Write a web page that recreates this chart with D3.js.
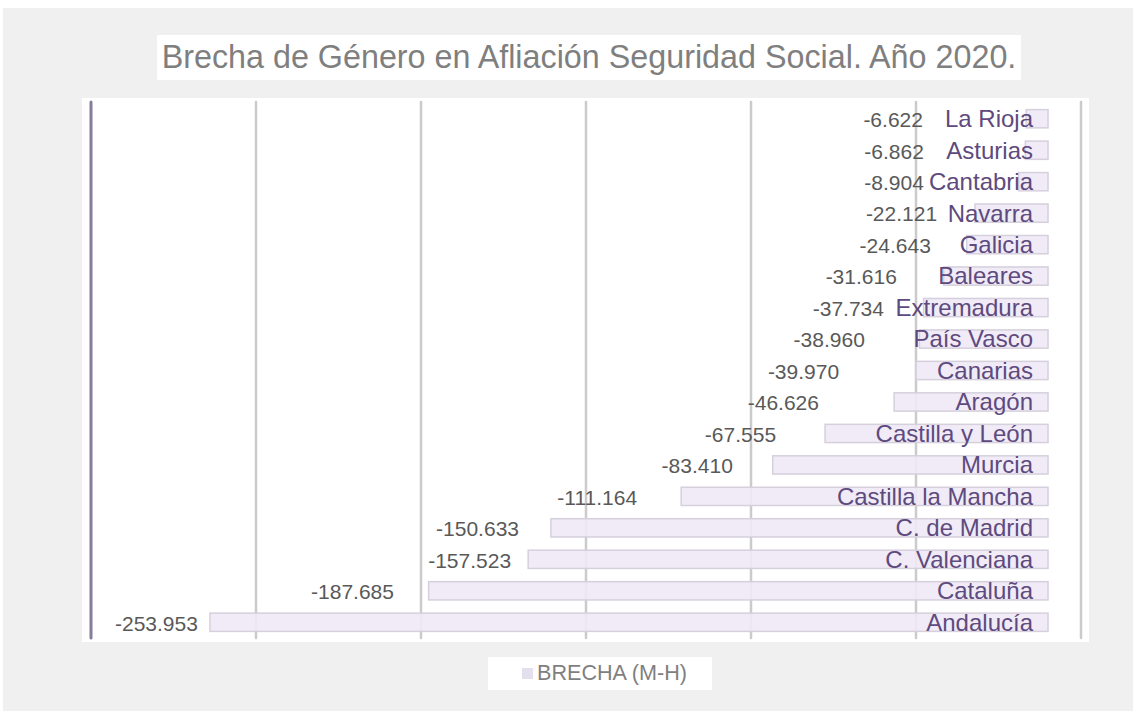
<!DOCTYPE html>
<html>
<head>
<meta charset="utf-8">
<script src="https://cdn.jsdelivr.net/npm/d3@7"></script>
<style>
  body { margin: 0; background: #fff; }
  svg { display: block; font-family: "Liberation Sans", Arial, sans-serif; }
</style>
</head>
<body>
<svg id="chart" width="1133" height="711"></svg>
<script>
// data (persons, M - H)
const regions = ['La Rioja', 'Asturias', 'Cantabria', 'Navarra', 'Galicia', 'Baleares',
    'Extremadura', 'País Vasco', 'Canarias', 'Aragón', 'Castilla y León', 'Murcia',
    'Castilla la Mancha', 'C. de Madrid', 'C. Valenciana', 'Cataluña', 'Andalucía']
const brecha = [-6622, -6862, -8904, -22121, -24643, -31616, -37734, -38960, -39970,
    -46626, -67555, -83410, -111164, -150633, -157523, -187685, -253953]
// where the value labels were dragged to in the original (right end, axis units)
const labelAt = [-37900, -37600, -37600, -33600, -35500, -45800, -49700, -55500, -63300,
    -69400, -82400, -95500, -124500, -160300, -162700, -198200, -257600]
const gridTicks = [-290000, -240000, -190000, -140000, -90000, -40000, 10000]
const titleText = 'Brecha de Género en Afliación Seguridad Social. Año 2020.'
const seriesName = 'BRECHA (M-H)'

const es = d3.formatLocale({ decimal: ',', thousands: '.', grouping: [3], currency: ['', ' €'], minus: '-' })
const fmt = es.format(',d')

const svg = d3.select('#chart')

// panels
svg.append('rect')
    .attr('x', 3).attr('y', 8).attr('width', 1130).attr('height', 703)
    .attr('fill', '#f0f0f0')

svg.append('rect')
    .attr('x', 157).attr('y', 35).attr('width', 864).attr('height', 45)
    .attr('fill', '#fff')

svg.append('text')
    .attr('x', 589).attr('y', 68)
    .attr('text-anchor', 'middle')
    .attr('fill', '#7f7f7f')
    .style('font-size', '32.3px')
    .text(titleText)

svg.append('rect')
    .attr('x', 82).attr('y', 98).attr('width', 1007).attr('height', 544)
    .attr('fill', '#fff')

const x = d3.scaleLinear()
    .domain([d3.min(gridTicks), d3.max(gridTicks)])
    .range([91, 1081])

const y = d3.scaleBand()
    .domain(regions)
    .range([103, 638])
    .paddingInner(0.42)
    .paddingOuter(0.21)

// gridlines, the leftmost one is the category axis
svg.append('g')
    .selectAll('line')
    .data(gridTicks)
    .join('line')
    .attr('x1', d => x(d)).attr('x2', d => x(d))
    .attr('y1', 102).attr('y2', 638)
    .attr('stroke', (d, i) => i == 0 ? '#867c9c' : '#cbcbcb')
    .attr('stroke-width', (d, i) => i == 0 ? 3 : 2.5)
    .attr('stroke-linecap', 'round')

// bars
svg.append('g')
    .selectAll('rect')
    .data(brecha)
    .join('rect')
    .attr('x', d => x(d))
    .attr('y', (d, i) => y(regions[i]))
    .attr('width', d => x(0) - x(d))
    .attr('height', y.bandwidth())
    .attr('fill', '#eee9f6')
    .attr('fill-opacity', 0.9)
    .attr('stroke', '#d5d0dc')
    .attr('stroke-width', 1.5)

// value labels
svg.append('g')
    .selectAll('text')
    .data(brecha)
    .join('text')
    .attr('x', (d, i) => x(labelAt[i]))
    .attr('y', (d, i) => y(regions[i]) + y.bandwidth() / 2 + 1)
    .attr('dy', '0.35em')
    .attr('text-anchor', 'end')
    .attr('fill', '#595959')
    .style('font-size', '21px')
    .text(d => fmt(d))

// category labels sit just inside the bar end
svg.append('g')
    .selectAll('text')
    .data(regions)
    .join('text')
    .attr('x', x(0) - 15)
    .attr('y', d => y(d) + y.bandwidth() / 2)
    .attr('dy', '0.35em')
    .attr('text-anchor', 'end')
    .attr('fill', '#5e4a7e')
    .style('font-size', '24px')
    .text(d => d)

// legend
const legend = svg.append('g')
legend.append('rect')
    .attr('x', 488).attr('y', 657).attr('width', 224).attr('height', 33)
    .attr('fill', '#fff')
legend.append('rect')
    .attr('x', 522).attr('y', 668).attr('width', 11).attr('height', 11)
    .attr('fill', '#e4dfec')
legend.append('text')
    .attr('x', 537).attr('y', 680)
    .attr('fill', '#7f7f7f')
    .style('font-size', '21.6px')
    .text(seriesName)
</script>
</body>
</html>
